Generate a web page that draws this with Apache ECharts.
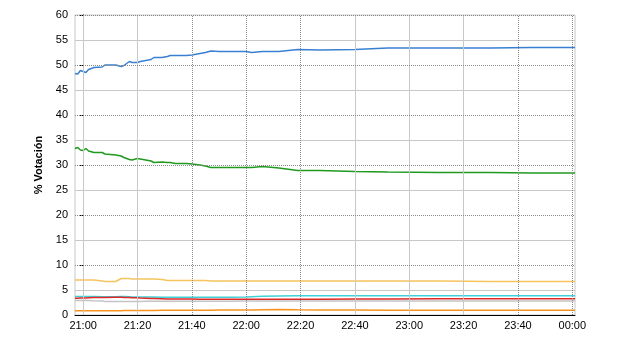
<!DOCTYPE html>
<html>
<head>
<meta charset="utf-8">
<script src="https://cdn.jsdelivr.net/npm/echarts@6/dist/echarts.min.js"></script>
<style>html,body{margin:0;padding:0;background:#fff}#c{width:640px;height:350px}</style>
</head>
<body>
<div id="c"></div>
<script>
// minutes after 21:00
const minutes = [-3,-2,-1,0,1,2,4,7,8,12,14,15,17,18,20,21,23,25,26,29,31,32,34,38,40,43,45,47,50,54,60,62,66,72,79,87,100,112,131,150,165,181];
const xTickMinutes = [0,20,40,60,80,100,120,140,160,180];
const xTickLabels = ['21:00','21:20','21:40','22:00','22:20','22:40','23:00','23:20','23:40','00:00'];
const dottedX = [40,60,80,160,180];
const solidX = [0,20,100,120,140];
const dottedY = [10,20,30,40,50,60];
const solidY = [5,15,25,35,45,55];

const blueValues = [48.3,48.2,48.9,48.7,48.5,49.1,49.5,49.6,50.0,50.0,49.7,49.9,50.7,50.5,50.5,50.7,50.9,51.1,51.5,51.5,51.7,51.9,51.9,51.9,52.0,52.3,52.5,52.8,52.7,52.7,52.7,52.5,52.7,52.7,53.1,53.0,53.1,53.4,53.4,53.4,53.5,53.5];
const greenValues = [33.3,33.5,33.0,32.9,33.3,32.8,32.5,32.5,32.2,32.0,31.8,31.5,31.1,31.0,31.3,31.2,31.0,30.8,30.5,30.6,30.5,30.5,30.3,30.3,30.2,30.0,29.8,29.5,29.5,29.5,29.5,29.5,29.7,29.4,28.9,28.9,28.7,28.6,28.5,28.5,28.4,28.4];
const yellowValues = [7.0,7.0,7.0,7.0,7.0,7.0,7.0,6.8,6.7,6.7,7.3,7.3,7.3,7.2,7.2,7.2,7.2,7.2,7.2,7.1,6.9,6.9,6.9,6.9,6.9,6.9,6.9,6.8,6.8,6.8,6.8,6.8,6.8,6.8,6.8,6.8,6.8,6.8,6.8,6.7,6.7,6.7];
const cyanValues = [3.7,3.7,3.7,3.7,3.7,3.7,3.7,3.65,3.65,3.65,3.7,3.7,3.65,3.6,3.6,3.6,3.6,3.6,3.6,3.55,3.55,3.55,3.55,3.55,3.55,3.55,3.55,3.55,3.55,3.55,3.6,3.65,3.75,3.8,3.85,3.85,3.85,3.85,3.87,3.87,3.87,3.87];
const redValues = [3.35,3.35,3.4,3.4,3.4,3.45,3.5,3.5,3.5,3.55,3.55,3.5,3.5,3.45,3.45,3.4,3.35,3.3,3.3,3.25,3.2,3.2,3.2,3.2,3.2,3.15,3.15,3.15,3.15,3.15,3.15,3.15,3.15,3.15,3.15,3.15,3.2,3.2,3.25,3.25,3.25,3.25];
const grayValues = [2.9,2.9,2.9,2.9,2.9,2.9,2.85,2.8,2.7,2.7,2.7,2.7,2.7,2.7,2.7,2.7,2.75,2.75,2.75,2.75,2.75,2.75,2.75,2.75,2.75,2.75,2.75,2.75,2.75,2.75,2.8,2.8,2.8,2.8,2.8,2.8,2.8,2.8,2.8,2.8,2.8,2.8];
const orangeValues = [0.85,0.85,0.85,0.85,0.85,0.85,0.86,0.86,0.87,0.87,0.87,0.88,0.88,0.88,0.9,0.9,0.9,0.92,0.92,0.93,0.93,0.94,0.94,0.95,0.95,0.96,0.97,0.97,0.98,0.99,1.0,1.02,1.05,1.1,1.05,1.0,1.0,0.95,0.95,0.95,0.95,0.95];

const seriesDefs = [
  {name:'Gris', values: grayValues, color:'#c4c4c4'},
  {name:'Naranja', values: orangeValues, color:'#f7931e'},
  {name:'Amarillo', values: yellowValues, color:'#f6c45c'},
  {name:'Cian', values: cyanValues, color:'#3fd0d8'},
  {name:'Rojo', values: redValues, color:'#e02828'},
  {name:'Verde', values: greenValues, color:'#1f9a1f'},
  {name:'Azul', values: blueValues, color:'#3a80d2'}
];

const labelFor = {};
xTickMinutes.forEach((m,i)=>labelFor[m]=xTickLabels[i]);

const gridLines = [];
solidX.forEach(v=>gridLines.push({xAxis:v, lineStyle:{color:'#c8c8c8', type:'solid', width:1}}));
solidY.forEach(v=>gridLines.push({yAxis:v, lineStyle:{color:'#c8c8c8', type:'solid', width:1}}));
dottedX.forEach(v=>gridLines.push({xAxis:v, lineStyle:{color:'#8a8a8a', type:[1,1], width:1}}));
dottedY.forEach(v=>gridLines.push({yAxis:v, lineStyle:{color:'#8a8a8a', type:[1,1], width:1}}));

const font = 'Liberation Sans, Arial, sans-serif';
const chart = echarts.init(document.getElementById('c'), null, {renderer:'canvas'});
chart.setOption({
  animation:false,
  backgroundColor:'#fff',
  grid:{left:75, right:65, top:15, bottom:35, show:true, borderColor:'#c8c8c8', borderWidth:1},
  xAxis:{
    type:'value', min:-3, max:181,
    axisLine:{show:true, onZero:false, lineStyle:{color:'#000', width:1}},
    axisTick:{show:false, customValues: xTickMinutes},
    splitLine:{show:false},
    axisLabel:{customValues: xTickMinutes, formatter:v=>labelFor[v]||'', color:'#000', fontSize:11, fontFamily:font, margin:5}
  },
  yAxis:{
    type:'value', min:0, max:60, interval:5,
    name:'% Votación', nameLocation:'middle', nameGap:22, nameRotate:90,
    nameTextStyle:{fontWeight:'bold', fontSize:11, fontFamily:font, color:'#000'},
    axisLine:{show:true, lineStyle:{color:'#000', width:1}},
    axisTick:{show:true, length:4, lineStyle:{color:'#000'}},
    splitLine:{show:false},
    axisLabel:{color:'#000', fontSize:11, fontFamily:font, margin:7}
  },
  series:[
    {type:'line', name:'grid', data:[], z:1, silent:true,
     markLine:{silent:true, symbol:'none', label:{show:false}, animation:false, data:gridLines}}
  ].concat(seriesDefs.map(s=>({
    type:'line', name:s.name, z:3, showSymbol:false, symbol:'none',
    lineStyle:{color:s.color, width:1.5}, itemStyle:{color:s.color},
    data: minutes.map((m,i)=>[m, s.values[i]])
  })))
});
</script>
</body>
</html>
